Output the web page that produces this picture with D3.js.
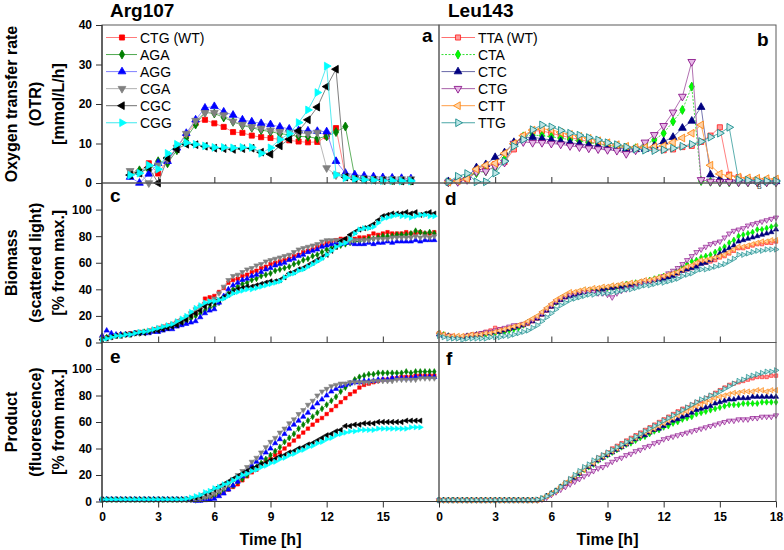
<!DOCTYPE html>
<html><head><meta charset="utf-8">
<script src="https://cdn.jsdelivr.net/npm/d3@7"></script>
<style>
body{margin:0;background:#fff}
svg{display:block;font-family:"Liberation Sans",Arial,sans-serif}
</style></head><body>
<svg id="chart" width="784" height="550"></svg>
<script>
// ---------------- DATA ----------------
const panelTitles = ["Arg107", "Leu143"];
const namesA = ["CTG (WT)", "AGA", "AGG", "CGA", "CGC", "CGG"];
const namesB = ["TTA (WT)", "CTA", "CTC", "CTG", "CTT", "TTG"];
const yLabelOTR = ["Oxygen transfer rate", "(OTR)", "[mmol/L/h]"];
const yLabelBio = ["Biomass", "(scattered light)", "[% from max.]"];
const yLabelProd = ["Product", "(fluorescence)", "[% from max.]"];
const xLabel = "Time [h]";
const otrTicks = [0, 10, 20, 30, 40];
const pctTicks = [0, 20, 40, 60, 80, 100];
const timeTicksA = [0, 3, 6, 9, 12, 15];
const timeTicksB = [0, 3, 6, 9, 12, 15, 18];

// OTR sampling times [h]
const otrTimeA = [1.5,2,2.5,3,3.5,4,4.5,5,5.5,6,6.5,7,7.5,8,8.5,9,9.5,10,10.5,11,11.5,12,12.5,13,13.5,14,14.5,15,15.5,16,16.5];
const otrTimeB = [0.5,1,1.5,2,2.5,3,3.5,4,4.5,5,5.5,6,6.5,7,7.5,8,8.5,9,9.5,10,10.5,11,11.5,12,12.5,13,13.5,14,14.5,15,15.5,16,16.5,17,17.5,18];
// BioLector sampling times [h]
const timeQ = [0,0.25,0.5,0.75,1,1.25,1.5,1.75,2,2.25,2.5,2.75,3,3.25,3.5,3.75,4,4.25,4.5,4.75,5,5.25,5.5,5.75,6,6.25,6.5,6.75,7,7.25,7.5,7.75,8,8.25,8.5,8.75,9,9.25,9.5,9.75,10,10.25,10.5,10.75,11,11.25,11.5,11.75,12,12.25,12.5,12.75,13,13.25,13.5,13.75,14,14.25,14.5,14.75,15,15.25,15.5,15.75,16,16.25,16.5,16.75,17,17.25,17.5,17.75,18];

// ---- OTR, Arg107 ----
const otrCTG = [2.5,2.8,5.0,2.4,5.8,8.8,12.3,15.2,16.0,15.1,14.2,12.9,12.7,12.0,11.6,11.4,11.0,10.8,10.5,10.3,10.4,11.8,13.9,1.8,1.3,1.0,0.9,0.8,0.7,0.7,0.6];
const otrAGA = [2.0,3.2,3.3,5.5,5.0,8.3,11.4,14.8,17.9,17.6,16.6,15.5,14.6,14.0,13.4,13.0,12.5,12.2,11.8,11.7,11.3,11.8,12.9,14.3,1.5,1.1,0.9,0.8,0.7,0.7,0.6];
const otrAGG = [1.5,0.0,2.3,5.0,5.5,8.9,12.6,16.0,19.0,19.4,18.0,17.2,16.0,15.5,15.1,14.8,14.2,13.7,13.3,13.2,13.1,13.0,5.5,2.5,2.1,1.8,1.6,1.4,1.3,1.2,1.1];
const otrCGA = [3.1,2.6,0.0,4.5,6.0,9.0,12.5,15.8,17.8,17.8,17.2,15.6,14.8,14.2,13.8,13.3,13.0,12.8,12.6,12.5,12.8,3.8,2.0,1.6,1.3,1.2,1.1,1.0,1.0,1.0,1.0];
const otrCGC = [2.0,2.5,3.9,0.0,6.3,8.6,9.8,9.7,9.3,8.8,8.7,8.5,8.7,8.8,7.8,7.3,9.4,11.1,13.2,16.0,19.2,24.4,28.8,1.5,1.0,0.8,0.7,0.6,0.6,0.5,0.5];
const otrCGG = [2.0,2.5,4.5,3.5,7.5,9.8,10.2,9.8,9.4,9.0,9.0,8.9,9.0,9.0,7.5,8.9,11.0,12.5,15.3,18.5,22.9,29.6,2.1,1.3,1.0,0.8,0.7,0.6,0.6,0.5,0.5];

// ---- OTR, Leu143 ----
const otrTTA = [0.3,0.5,1.0,3.0,4.0,4.8,5.3,8.5,11.8,13.2,13.2,12.6,12.0,11.5,11.0,10.5,10.0,9.6,9.2,8.9,8.7,8.6,8.5,8.3,8.5,9.1,9.4,10.4,12.0,14.1,2.1,1.5,1.0,0.8,0.7,0.6];
const otrCTA = [0.2,0.5,1.8,2.5,3.0,4.0,6.0,9.7,11.8,12.1,12.0,11.7,11.3,11.0,10.6,10.2,9.9,9.4,9.2,8.9,8.8,9.7,10.9,12.6,15.6,18.5,24.4,0.5,0.3,0.2,0.2,0.2,0.2,0.2,0.2,0.2];
const otrCTC = [0.4,0.8,1.5,3.9,4.7,6.5,7.7,10.3,11.5,11.6,11.2,10.9,10.5,10.2,9.9,9.6,9.3,9.0,8.8,8.6,8.5,8.6,9.4,10.5,11.6,13.9,15.7,19.2,2.1,1.0,0.8,0.6,0.5,0.5,0.4,0.4];
const otrCTGb = [0.2,0.3,0.8,2.8,3.0,4.2,5.2,10.0,10.4,10.2,10.2,10.0,9.8,9.4,9.1,8.8,8.6,8.4,8.2,7.4,8.3,10.3,12.2,14.5,17.9,21.9,30.7,0.8,0.4,0.3,0.3,0.2,0.2,0.2,0.2,0.2];
const otrCTT = [0.2,0.5,1.0,3.5,4.5,5.0,7.5,10.0,12.0,13.4,13.7,13.5,12.8,12.3,11.8,11.3,10.7,10.2,9.7,9.3,9.0,9.0,9.2,9.4,10.3,11.4,12.6,14.7,4.5,2.3,1.8,1.5,1.3,1.2,1.1,1.0];
const otrTTG = [0.3,1.7,2.4,0.3,0.3,2.5,5.5,9.3,11.0,13.5,14.7,14.2,13.3,12.6,12.1,11.5,10.9,10.2,9.7,9.1,8.6,8.3,8.2,8.4,8.8,9.3,9.8,10.5,11.6,12.6,14.1,0.8,0.7,0.6,0.5,0.5];

// ---- Biomass, Arg107 (0 .. 17.75 h) ----
const bioCTG = [4,4,5,5,6,6,7,7, 8,8,9,10,11,12,13,14, 16,17,18,20,22,27,33,34, 35,38,41,45,47,48,50,51, 53,54,56,57,59,60,61,62, 63,65,66,68,69,70,72,73, 75,76,77,78,78,78,78,79, 79,80,82,81,82,83,82,82, 82,83,82,82,83,82,82,83];
const bioAGA = [3,4,5,5,6,6,6,7, 7,8,8,9,9,10,11,12, 13,14,16,18,20,22,24,26, 27,30,34,37,40,42,44,45, 47,48,50,51,52,54,55,56, 57,59,60,62,63,65,66,68, 70,71,72,73,74,75,76,76, 77,78,78,79,80,80,80,81, 81,81,82,84,83,82,83,82];
const bioAGG = [5,9,7,6,6,6,6,7, 7,7,7,8,8,9,10,10, 12,13,14,15,16,19,22,24, 25,30,35,40,43,45,47,48, 50,51,53,55,56,58,59,60, 62,63,65,66,68,69,70,72, 73,74,75,74,75,75,74,74, 74,75,74,75,75,76,75,76, 76,76,76,77,76,77,77,77];
const bioCGA = [3,3,4,5,5,6,6,7, 7,8,8,9,10,11,12,13, 15,17,19,22,25,27,29,31, 33,37,42,47,50,51,53,55, 56,58,59,61,62,63,64,65, 66,68,70,71,72,73,74,76, 77,77,77,77,76,76,77,77, 77,77,78,78,78,78,79,79, 79,79,79,80,79,80,79,80];
const bioCGC = [2,3,4,5,5,6,6,7, 7,7,8,9,9,10,11,12, 13,15,17,20,22,24,27,29, 30,32,34,36,38,40,41,42, 42,43,44,45,46,46,47,49, 52,53,55,56,58,60,62,64, 66,69,72,76,78,81,83,85, 86,87,89,92,95,96,97,97, 97,98,97,98,96,97,98,97];
const bioCGG = [2,3,4,5,5,6,6,7, 8,8,9,10,11,12,13,14, 16,18,20,23,26,28,30,31, 31,32,33,35,37,38,39,40, 40,41,42,43,44,45,46,49, 51,52,54,55,57,59,61,63, 66,69,72,74,75,78,82,85, 86,86,87,90,93,94,95,96, 95,95,94,95,96,96,95,95];

// ---- Biomass, Leu143 (0 .. 18 h) ----
const bioTTA = [7,6,5,5,4,4,5,6, 6,7,8,9,11,10,9,10, 11,12,13,14,16,18,21,24, 27,30,32,34,36,37,38,38, 39,39,40,40,41,41,42,42, 43,44,44,45,46,46,47,48, 49,50,51,52,54,55,56,58, 60,60,61,62,64,65,67,69, 71,71,72,73,74,74,75,75, 76];
const bioCTA = [7,6,5,4,4,4,4,5, 5,6,6,7,7,8,8,9, 10,11,13,15,17,19,22,25, 28,30,33,35,36,37,38,39, 39,40,40,41,41,42,42,43, 44,44,45,45,46,47,48,49, 50,51,53,55,57,59,61,62, 64,65,66,68,70,72,75,77, 80,81,82,83,85,85,86,87, 88];
const bioCTC = [6,5,5,4,4,4,5,5, 6,6,7,7,8,8,9,10, 11,12,13,15,16,18,21,24, 27,30,32,34,35,36,37,38, 39,39,40,40,41,41,42,42, 43,43,44,45,46,46,47,47, 48,49,50,52,54,55,56,57, 59,60,62,64,67,69,71,73, 76,77,78,79,80,81,82,83, 85];
const bioCTGb = [6,5,5,4,4,4,5,5, 6,7,8,8,9,10,11,12, 13,13,14,15,17,19,22,25, 28,31,33,35,36,37,38,38, 38,38,37,37,36,34,37,39, 40,41,42,44,45,46,47,48, 50,52,54,56,59,62,65,68, 70,72,74,75,76,79,82,84, 85,86,88,89,90,91,92,93, 94];
const bioCTT = [7,6,5,5,5,5,5,6, 6,6,7,7,8,9,10,11, 12,13,14,16,18,20,23,26, 29,32,34,36,38,38,39,40, 40,41,41,42,42,43,43,44, 44,45,45,46,47,47,48,49, 50,51,52,53,55,57,58,60, 62,62,63,64,65,66,68,70, 72,72,73,74,75,76,76,77, 77];
const bioTTG = [5,4,3,3,3,2,3,3, 3,3,3,4,4,4,5,5, 6,7,8,9,11,13,16,19, 22,25,28,30,32,33,34,35, 36,36,37,37,37,38,38,39, 40,40,41,42,43,43,44,45, 45,46,47,48,50,51,52,54, 55,55,56,57,58,59,61,63, 66,66,67,68,69,69,70,70, 70];

// ---- Product, Arg107 ----
const prodCTG = [1.5,1.5,1.5,1.5,1.5,1.5,1.5,1.5, 1.5,1.5,1.5,1.5,1.5,1.5,1.5,1.5, 1.5,1.5,1.5,1.5,1.5,1.5,2,3, 4,5,7,9,11,13,16,19, 22,24,27,30,32,35,37,40, 43,46,49,52,55,58,61,63, 66,69,72,75,78,81,83,86, 88,89,90,91,92,92,93,93, 94,94,94,95,95,95,95,95];
const prodAGA = [1.5,1.5,1.5,1.5,1.5,1.5,1.5,1.5, 1.5,1.5,1.5,1.5,1.5,1.5,1.5,1.5, 1.5,1.5,1.5,1.5,1,1.5,2,3, 4,6,8,10,12,15,17,20, 24,26,29,32,35,38,41,45, 48,51,55,58,61,64,67,70, 73,76,79,83,86,89,92,94, 95,96,96,97,97,97,97,97, 97,98,97,98,98,98,98,98];
const prodAGG = [1.5,1.5,1.5,1.5,1.5,1.5,1.5,1.5, 1.5,1.5,1.5,1.5,1.5,1.5,1.5,1.5, 1.5,1.5,1.5,1,0.5,0.5,1,1.5, 2,4,6,9,12,15,19,23, 27,30,33,37,40,44,47,51, 55,58,61,64,67,71,74,77, 80,83,85,87,88,89,90,90, 91,91,91,92,92,92,93,93, 93,93,93,94,94,94,94,94];
const prodCGA = [1.5,1.5,1.5,1.5,1.5,1.5,1.5,1.5, 1.5,1.5,1.5,1.5,1.5,1.5,1.5,1.5, 1.5,1.5,1.5,1.5,1.5,2,3,4, 6,8,10,13,17,20,23,26, 30,33,37,41,45,48,52,55, 59,62,66,69,73,76,80,83, 85,87,88,89,89,90,90,90, 90,90,91,91,91,91,91,92, 92,92,92,92,93,93,93,93];
const prodCGC = [1.5,1.5,1.5,1.5,1.5,1.5,1.5,1.5, 1.5,1.5,1.5,1.5,1.5,1.5,1.5,1.5, 1.5,1.5,1.5,2,3,4,6,7, 9,11,13,15,17,19,21,23, 25,26,28,29,31,32,34,35, 37,38,40,41,43,44,46,48, 50,51,53,54,57,57,58,58, 59,59,59,60,60,60,60,60, 60,61,61,61,61];
const prodCGG = [1.5,1.5,1.5,1.5,1.5,1.5,1.5,1.5, 1.5,1.5,1.5,1.5,1.5,1.5,1.5,1.5, 1.5,1.5,2,3,4,5,7,8, 10,11,13,14,16,18,20,21, 23,24,26,27,29,30,32,33, 35,36,38,39,41,42,44,45, 47,48,50,51,52,53,53,54, 54,54,54,55,55,55,55,55, 55,55,56,56,56];

// ---- Product, Leu143 ----
const prodTTA = [1,1,1,1,1,1,1,1, 1,1,1,1,1,1,1,1, 1,1,1,1,1,1,2,4, 6,8,11,14,17,19,22,25, 27,30,33,35,37,40,42,44, 46,48,50,52,54,56,58,60, 62,64,66,68,70,71,73,75, 76,78,80,82,84,86,88,89, 90,91,92,93,94,94,94,95, 95];
const prodCTA = [1,1,1,1,1,1,1,1, 1,1,1,1,1,1,1,1, 1,1,1,1,1,1,2,4, 6,8,11,13,16,18,21,24, 26,28,31,33,35,37,39,41, 43,44,46,48,49,51,53,54, 56,57,59,60,62,63,64,66, 67,68,69,70,71,72,73,73, 73,74,74,74,74,75,75,75, 75];
const prodCTC = [1,1,1,1,1,1,1,1, 1,1,1,1,1,1,1,1, 1,1,1,1,1,1,2,4, 6,8,11,13,16,18,21,24, 26,28,31,33,35,37,39,41, 43,45,47,49,50,52,54,55, 57,59,61,62,64,65,67,69, 70,71,72,74,75,76,77,77, 78,78,78,79,79,79,79,79, 79];
const prodCTGb = [1,1,1,1,1,1,1,1, 1,1,1,1,1,1,1,1, 1,1,1,1,1,1,1.5,3, 5,7,9,11,13,15,17,19, 21,23,25,26,28,30,32,33, 35,36,38,39,41,42,44,45, 47,48,49,50,51,52,53,54, 55,56,57,58,59,60,61,61, 62,62,62,63,63,64,64,64, 65];
const prodCTT = [1,1,1,1,1,1,1,1, 1,1,1,1,1,1,1,1, 1,1,1,1,1,1,2,4, 6,8,11,14,16,19,22,24, 27,29,32,34,36,38,40,42, 44,46,48,50,52,53,55,57, 59,61,63,65,67,68,70,72, 73,75,76,78,79,80,81,82, 82,83,83,83,84,84,83,84, 84];
const prodTTG = [1,1,1,1,1,1,1,1, 1,1,1,1,1,1,1,1, 1,1,1,1,1,1.5,2.5,4, 6,8,11,14,17,20,23,26, 28,31,33,35,37,39,41,43, 45,47,49,51,53,55,57,59, 61,63,65,67,69,71,73,75, 77,78,80,81,83,85,87,89, 91,92,94,95,96,97,98,98, 99];

// ---------------- STYLES ----------------
const styleA = [
  {stroke:"#ff0000", fill:"#ff0000", line:"#ff7a7a", shape:"square"},
  {stroke:"#007a00", fill:"#008000", line:"#4fa84f", shape:"diamond"},
  {stroke:"#0000ff", fill:"#0000ff", line:"#8080ff", shape:"up"},
  {stroke:"#808080", fill:"#808080", line:"#b0b0b0", shape:"down"},
  {stroke:"#000000", fill:"#000000", line:"#707070", shape:"left"},
  {stroke:"#00ffff", fill:"#00ffff", line:"#3ee8ee", shape:"right"}
];
const styleB = [
  {stroke:"#ff1a1a", fill:"#ff9a9a", line:"#ff7070", shape:"square"},
  {stroke:"#00d000", fill:"#00ff00", line:"#33dd33", shape:"diamond", dash:"2,1.5"},
  {stroke:"#000080", fill:"#000080", line:"#6868a8", shape:"up"},
  {stroke:"#800080", fill:"#e6b8e6", line:"#a860a8", shape:"down"},
  {stroke:"#ff8000", fill:"#ffd2a6", line:"#ff9d45", shape:"left"},
  {stroke:"#008080", fill:"#bfe6e6", line:"#4aa6a6", shape:"right"}
];

// ---------------- LAYOUT ----------------
const svg = d3.select("#chart");
const X0 = 102, XM = 439, X1 = 776;
const Y0 = 25, YA = 183, YB = 342.5, YC = 501.5;
const xA = d3.scaleLinear().domain([0, 18]).range([X0, XM]);
const xB = d3.scaleLinear().domain([0, 18]).range([XM, X1]);
const yO = d3.scaleLinear().domain([0, 40]).range([YA, Y0]);
const yBio = d3.scaleLinear().domain([0, 120]).range([YB, YA]);
const yPr = d3.scaleLinear().domain([0, 120]).range([YC, YB]);

const symType = {square:d3.symbolSquare, diamond:d3.symbolDiamond, up:d3.symbolTriangle, down:d3.symbolTriangle, left:d3.symbolTriangle, right:d3.symbolTriangle};
const symRot = {square:0, diamond:0, up:0, down:180, left:-90, right:90};

function drawMarkers(g, pts, st, size, sw) {
  g.selectAll(null).data(pts).join("path")
    .attr("d", d3.symbol().type(symType[st.shape]).size(st.shape === "diamond" ? size * 0.9 : size))
    .attr("transform", d => `translate(${d[0]},${d[1]}) rotate(${symRot[st.shape]})`)
    .attr("fill", st.fill).attr("stroke", st.stroke).attr("stroke-width", sw);
}
function drawSeries(g, x, y, times, vals, st, size, sw) {
  const pts = vals.map((v, i) => [x(times[i]), y(v)]);
  g.append("path").attr("d", d3.line()(pts)).attr("fill", "none")
    .attr("stroke", st.line).attr("stroke-width", 0.9)
    .attr("stroke-dasharray", st.dash || null);
  drawMarkers(g, pts, st, size, sw);
}

const plots = svg.append("g");
// OTR
[otrCTG, otrAGA, otrAGG, otrCGA, otrCGC, otrCGG].forEach((v, i) => drawSeries(plots.append("g"), xA, yO, otrTimeA, v, styleA[i], 26, 0.8));
[otrTTA, otrCTA, otrCTC, otrCTGb, otrCTT, otrTTG].forEach((v, i) => drawSeries(plots.append("g"), xB, yO, otrTimeB, v, styleB[i], 26, 0.8));
// Biomass
[bioCTG, bioAGA, bioAGG, bioCGA, bioCGC, bioCGG].forEach((v, i) => drawSeries(plots.append("g"), xA, yBio, timeQ, v, styleA[i], 12, 0.6));
[bioTTA, bioCTA, bioCTC, bioCTGb, bioCTT, bioTTG].forEach((v, i) => drawSeries(plots.append("g"), xB, yBio, timeQ, v, styleB[i], 12, 0.6));
// Product
[prodCTG, prodAGA, prodAGG, prodCGA, prodCGC, prodCGG].forEach((v, i) => drawSeries(plots.append("g"), xA, yPr, timeQ, v, styleA[i], 12, 0.6));
[prodTTA, prodCTA, prodCTC, prodCTGb, prodCTT, prodTTG].forEach((v, i) => drawSeries(plots.append("g"), xB, yPr, timeQ, v, styleB[i], 12, 0.6));

// ---------------- FRAMES ----------------
const frames = svg.append("g").attr("fill", "none").attr("stroke", "#5a5a5a").attr("stroke-width", 1);
[[X0, Y0, XM, YA], [XM, Y0, X1, YA], [X0, YA, XM, YB], [XM, YA, X1, YB], [X0, YB, XM, YC], [XM, YB, X1, YC]]
  .forEach(r => frames.append("rect").attr("x", r[0]).attr("y", r[1]).attr("width", r[2] - r[0]).attr("height", r[3] - r[1]));
svg.append("line").attr("x1", X0).attr("x2", X0).attr("y1", Y0).attr("y2", YC).attr("stroke", "#333").attr("stroke-width", 1.2);
svg.append("line").attr("x1", X0).attr("x2", X1).attr("y1", YC).attr("y2", YC).attr("stroke", "#333").attr("stroke-width", 1.2);

// ---------------- AXES ----------------
function styleAxis(g) {
  g.select(".domain").remove();
  g.selectAll(".tick line").attr("stroke", "#333").attr("stroke-width", 1);
  g.selectAll(".tick text").attr("font-size", 12).attr("font-weight", "bold").attr("fill", "#000")
    .attr("font-family", '"Liberation Sans", Arial, sans-serif');
}
svg.append("g").attr("transform", `translate(${X0},0)`).call(d3.axisLeft(yO).tickValues(otrTicks).tickSize(6).tickPadding(4)).call(styleAxis);
svg.append("g").attr("transform", `translate(${X0},0)`).call(d3.axisLeft(yBio).tickValues(pctTicks).tickSize(6).tickPadding(4)).call(styleAxis);
svg.append("g").attr("transform", `translate(${X0},0)`).call(d3.axisLeft(yPr).tickValues(pctTicks).tickSize(6).tickPadding(4)).call(styleAxis);

// inward ticks on upper rows
[YA, YB].forEach(yy => {
  svg.append("g").attr("transform", `translate(0,${yy})`).call(d3.axisBottom(xA).tickValues([3, 6, 9, 12, 15]).tickSize(-6).tickFormat("")).call(styleAxis);
  svg.append("g").attr("transform", `translate(0,${yy})`).call(d3.axisBottom(xB).tickValues([3, 6, 9, 12, 15]).tickSize(-6).tickFormat("")).call(styleAxis);
});
svg.append("g").attr("transform", `translate(0,${YC})`).call(d3.axisBottom(xA).tickValues(timeTicksA).tickSize(6).tickPadding(5)).call(styleAxis);
svg.append("g").attr("transform", `translate(0,${YC})`).call(d3.axisBottom(xB).tickValues(timeTicksB).tickSize(6).tickPadding(5)).call(styleAxis);

// ---------------- TEXT ----------------
const txt = svg.append("g").attr("font-weight", "bold").attr("fill", "#000");
txt.append("text").attr("x", 110).attr("y", 17).attr("font-size", 19).text(panelTitles[0]);
txt.append("text").attr("x", 448).attr("y", 17).attr("font-size", 19).text(panelTitles[1]);

function yLabel(lines, yc) {
  const base = [17, 40.5, 64];
  lines.forEach((s, i) => txt.append("text")
    .attr("transform", `translate(${base[i]},${yc}) rotate(-90)`)
    .attr("text-anchor", "middle").attr("font-size", 16).text(s));
}
yLabel(yLabelOTR, (Y0 + YA) / 2);
yLabel(yLabelBio, (YA + YB) / 2);
yLabel(yLabelProd, (YB + YC) / 2);

txt.append("text").attr("x", (X0 + XM) / 2).attr("y", 545).attr("text-anchor", "middle").attr("font-size", 16).text(xLabel);
txt.append("text").attr("x", (XM + X1) / 2).attr("y", 545).attr("text-anchor", "middle").attr("font-size", 16).text(xLabel);

const letters = [["a", 422, 42], ["b", 757, 46], ["c", 110, 202], ["d", 445, 205], ["e", 110, 363], ["f", 446, 365]];
letters.forEach(l => txt.append("text").attr("x", l[1]).attr("y", l[2]).attr("font-size", 19).text(l[0]));
svg.append("text").attr("x", 757).attr("y", 189).attr("font-size", 7).attr("fill", "#333").text("B");

// ---------------- LEGENDS ----------------
function legend(names, styles, lx0, lx1, mx, tx) {
  const g = svg.append("g");
  names.forEach((n, i) => {
    const y = 37.5 + 17.05 * i;
    g.append("line").attr("x1", lx0).attr("x2", lx1).attr("y1", y).attr("y2", y)
      .attr("stroke", styles[i].line).attr("stroke-width", 1).attr("stroke-dasharray", styles[i].dash || null);
    drawMarkers(g, [[mx, y]], styles[i], 26, 0.8);
    g.append("text").attr("x", tx).attr("y", y + 5).attr("font-size", 14).attr("fill", "#000").text(n);
  });
}
legend(namesA, styleA, 106, 137, 122, 140);
legend(namesB, styleB, 441.5, 475, 458, 478);
</script>
</body></html>
